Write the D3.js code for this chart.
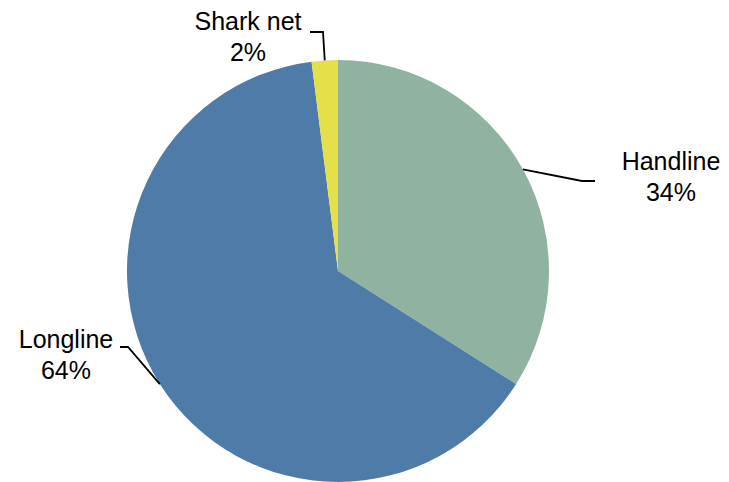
<!DOCTYPE html>
<html>
<head>
<meta charset="utf-8">
<script src="https://cdn.jsdelivr.net/npm/d3@7"></script>
<style>
  html, body { margin: 0; padding: 0; background: #fff; }
  svg { display: block; }
</style>
</head>
<body>
<svg id="chart" width="729" height="482"></svg>
<script>
const categories = ["Handline", "Longline", "Shark net"];
const values = [34, 64, 2];
const valueLabels = ["34%", "64%", "2%"];
const colors = ["#8fb3a0", "#4e7ba8", "#e5df4b"];

const W = 729, H = 482;
const cx = 338, cy = 271, R = 211;

const svg = d3.select("#chart");
const g = svg.append("g").attr("transform", `translate(${cx},${cy})`);

const pie = d3.pie().sort(null).value(d => d.value);
const arcs = pie(categories.map((c, i) => ({ name: c, value: values[i], label: valueLabels[i], color: colors[i] })));

const arc = d3.arc().innerRadius(0).outerRadius(R);

g.selectAll("path.slice")
  .data(arcs)
  .enter().append("path")
  .attr("class", "slice")
  .attr("d", arc)
  .attr("fill", d => d.data.color);

// Label layout: leader line elbows / ends and text positions
const labelCfg = {
  "Handline": { elbow: [582, 181], end: [595, 181], text: [671, 170] },
  "Longline": { elbow: [128, 347], end: [120, 347], text: [66, 348] },
  "Shark net": { elbow: [323, 32], end: [310, 32], text: [248, 30] }
};

const labels = svg.append("g");
arcs.forEach(d => {
  const cfg = labelCfg[d.data.name];
  const a = (d.startAngle + d.endAngle) / 2;
  const px = cx + R * Math.sin(a);
  const py = cy - R * Math.cos(a);
  labels.append("path")
    .attr("d", d3.line()([[px, py], cfg.elbow, cfg.end]))
    .attr("fill", "none")
    .attr("stroke", "#000")
    .attr("stroke-width", 1.8);
  const t = labels.append("text")
    .attr("x", cfg.text[0]).attr("y", cfg.text[1])
    .attr("text-anchor", "middle")
    .attr("font-family", "Liberation Sans, Arial, sans-serif")
    .attr("font-size", 25)
    .attr("fill", "#000");
  t.append("tspan").attr("x", cfg.text[0]).text(d.data.name);
  t.append("tspan").attr("x", cfg.text[0]).attr("dy", 31).text(d.data.label);
});
</script>
</body>
</html>
